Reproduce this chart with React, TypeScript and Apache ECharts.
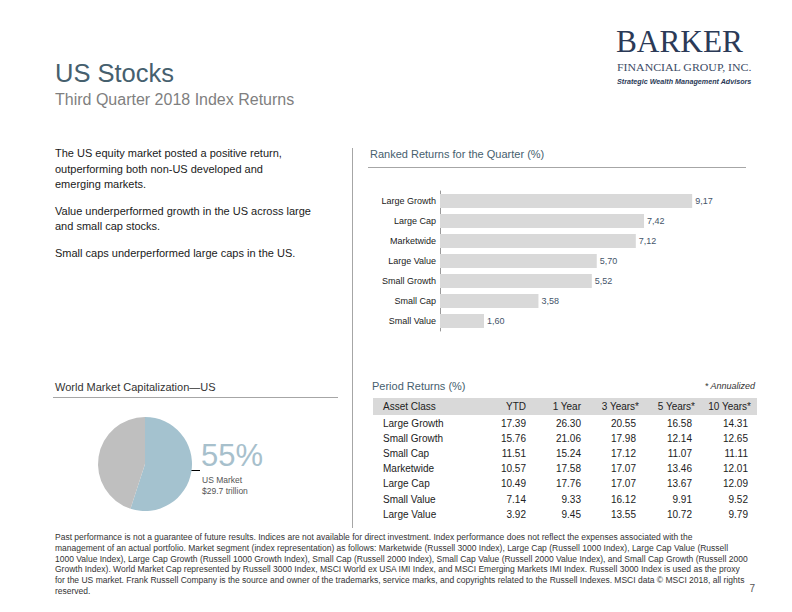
import React, { useEffect, useRef } from "react";
import * as echarts from "echarts";

// ---- Data ----
const rankedCategories = ["Large Growth", "Large Cap", "Marketwide", "Large Value", "Small Growth", "Small Cap", "Small Value"];
const rankedValues = [9.17, 7.42, 7.12, 5.7, 5.52, 3.58, 1.6];

const tableHeaders = ["Asset Class", "YTD", "1 Year", "3 Years*", "5 Years*", "10 Years*"];
const tableAssets = ["Large Growth", "Small Growth", "Small Cap", "Marketwide", "Large Cap", "Small Value", "Large Value"];
const ytd = ["17.39", "15.76", "11.51", "10.57", "10.49", "7.14", "3.92"];
const oneYear = ["26.30", "21.06", "15.24", "17.58", "17.76", "9.33", "9.45"];
const threeYears = ["20.55", "17.98", "17.12", "17.07", "17.07", "16.12", "13.55"];
const fiveYears = ["16.58", "12.14", "11.07", "13.46", "13.67", "9.91", "10.72"];
const tenYears = ["14.31", "12.65", "11.11", "12.01", "12.09", "9.52", "9.79"];

const marketNames = ["US Market", "Non-US Markets"];
const marketShares = [55, 45];
const usMarketTrillions = 29.7;

const bullets = [
  ["The US equity market posted a positive return,", "outperforming both non-US developed and", "emerging markets."],
  ["Value underperformed growth in the US across large", "and small cap stocks."],
  ["Small caps underperformed large caps in the US."],
];

const footerLines = [
  "Past performance is not a guarantee of future results. Indices are not available for direct investment. Index performance does not reflect the expenses associated with the",
  "management of an actual portfolio. Market segment (index representation) as follows: Marketwide (Russell 3000 Index), Large Cap (Russell 1000 Index), Large Cap Value (Russell",
  "1000 Value Index), Large Cap Growth (Russell 1000 Growth Index), Small Cap (Russell 2000 Index), Small Cap Value (Russell 2000 Value Index), and Small Cap Growth (Russell 2000",
  "Growth Index). World Market Cap represented by Russell 3000 Index, MSCI World ex USA IMI Index, and MSCI Emerging Markets IMI Index. Russell 3000 Index is used as the proxy",
  "for the US market. Frank Russell Company is the source and owner of the trademarks, service marks, and copyrights related to the Russell Indexes. MSCI data © MSCI 2018, all rights",
  "reserved.",
];

const SANS = '"Liberation Sans", Arial, sans-serif';
const SERIF = '"Liberation Serif", "Times New Roman", serif';
const SLATE = "#46606e";

function measure(text: string, font: string): number {
  const c = document.createElement("canvas").getContext("2d");
  if (!c) return text.length * 6;
  c.font = font;
  return c.measureText(text).width;
}

function txt(x: number, y: number, text: string, font: string, fill: string, align = "left", extra: any = {}) {
  return {
    type: "text",
    x,
    y,
    silent: true,
    style: { text, font, fill, textAlign: align, textVerticalAlign: "middle" },
    ...extra,
  };
}

function fitted(x: number, y: number, text: string, font: string, fill: string, width: number) {
  const w = measure(text, font);
  return { ...txt(0, 0, text, font, fill), x, y, scaleX: width / w, originX: 0 };
}

function hline(x1: number, x2: number, y: number, stroke: string) {
  return { type: "line", silent: true, shape: { x1, y1: y + 0.5, x2, y2: y + 0.5 }, style: { stroke, lineWidth: 1 } };
}

export default function App() {
  const ref = useRef<HTMLDivElement>(null);

  useEffect(() => {
    if (!ref.current) return;
    const chart = echarts.init(ref.current, null, { renderer: "svg" });

    const graphics: any[] = [];
    // Header
    graphics.push(txt(55, 73, "US Stocks", `25.5px ${SANS}`, SLATE));
    graphics.push(txt(55, 99, "Third Quarter 2018 Index Returns", `16px ${SANS}`, "#7f7f7f"));
    // Logo
    graphics.push(fitted(616, 41, "BARKER", `32px ${SERIF}`, "#2b3a57", 127));
    graphics.push(fitted(617, 67, "FINANCIAL GROUP, INC.", `10.5px ${SERIF}`, "#3d4c66", 135));
    graphics.push(fitted(617, 81, "Strategic Wealth Management Advisors", `italic bold 7.5px ${SANS}`, "#2b3a57", 135));

    // Bullets
    let by = 153;
    bullets.forEach((para) => {
      para.forEach((line) => {
        graphics.push(txt(55, by, line, `11px ${SANS}`, "#1a1a1a"));
        by += 15.5;
      });
      by += 11;
    });

    // Divider
    graphics.push({ type: "line", silent: true, shape: { x1: 352.5, y1: 148, x2: 352.5, y2: 528 }, style: { stroke: "#a6a6a6", lineWidth: 1 } });

    // Ranked returns heading
    graphics.push(txt(370, 154, "Ranked Returns for the Quarter (%)", `11px ${SANS}`, SLATE));
    graphics.push(hline(368, 746, 167, "#a6a6a6"));

    // World market cap
    graphics.push(txt(55, 387, "World Market Capitalization\u2014US", `11px ${SANS}`, "#333"));
    graphics.push(hline(53, 338, 397, "#a6a6a6"));
    graphics.push({ type: "line", silent: true, shape: { x1: 191, y1: 470.5, x2: 200, y2: 470.5 }, style: { stroke: "#000", lineWidth: 1 } });
    graphics.push(txt(201, 455, `${marketShares[0]}%`, `31px ${SANS}`, "#a7c0cc"));
    graphics.push(txt(202, 480, marketNames[0], `8.5px ${SANS}`, "#555"));
    graphics.push(txt(202, 491, `$${usMarketTrillions} trillion`, `8.5px ${SANS}`, "#555"));

    // Period returns table
    graphics.push(txt(372, 386, "Period Returns (%)", `11px ${SANS}`, SLATE));
    graphics.push(txt(755, 386, "* Annualized", `italic 9px ${SANS}`, "#333", "right"));
    graphics.push({ type: "rect", silent: true, shape: { x: 373, y: 398, width: 384, height: 17 }, style: { fill: "#d9d9d9" } });
    const colRight = [526, 581, 636, 692, 748];
    const headerRight = [526, 581, 639, 695, 751];
    const tf = `10px ${SANS}`;
    graphics.push(txt(383, 406.5, tableHeaders[0], tf, "#222"));
    for (let c = 1; c < tableHeaders.length; c++) {
      graphics.push(txt(headerRight[c - 1], 406.5, tableHeaders[c], tf, "#222", "right"));
    }
    const cols = [ytd, oneYear, threeYears, fiveYears, tenYears];
    tableAssets.forEach((name, r) => {
      const y = 423 + r * 15.2;
      graphics.push(txt(383, y, name, tf, "#222"));
      cols.forEach((col, c) => graphics.push(txt(colRight[c], y, col[r], tf, "#222", "right")));
    });

    // Footer
    footerLines.forEach((line, i) => {
      graphics.push(txt(55, 537 + i * 10.8, line, `8.5px ${SANS}`, "#333"));
    });
    graphics.push(txt(755, 588, "7", `10px ${SANS}`, "#555", "right"));

    chart.setOption({
      animation: false,
      backgroundColor: "#ffffff",
      grid: { left: 440, top: 191, width: 275, height: 140, containLabel: false },
      xAxis: { type: "value", min: 0, max: 10, show: false },
      yAxis: {
        type: "category",
        inverse: true,
        data: rankedCategories,
        axisLine: { show: true, lineStyle: { color: "#999", width: 1 } },
        axisTick: { show: false },
        axisLabel: { color: "#1a1a1a", fontSize: 9, fontFamily: SANS, margin: 4 },
      },
      series: [
        {
          type: "bar",
          data: rankedValues,
          barWidth: 14,
          itemStyle: { color: "#d9d9d9" },
          label: {
            show: true,
            position: "right",
            distance: 3,
            color: "#44546a",
            fontSize: 9,
            fontFamily: SANS,
            formatter: (p: any) => Number(p.value).toFixed(2).replace(".", ","),
          },
          silent: true,
        },
        {
          type: "pie",
          center: [145, 464],
          radius: 47,
          startAngle: 90,
          clockwise: true,
          label: { show: false },
          labelLine: { show: false },
          silent: true,
          data: marketNames.map((n, i) => ({
            name: n,
            value: marketShares[i],
            itemStyle: { color: i === 0 ? "#a4c2cf" : "#bfbfbf" },
          })),
        },
      ],
      graphic: graphics,
    });

    return () => chart.dispose();
  }, []);

  return <div ref={ref} style={{ position: "absolute", left: 0, top: 0, width: 792, height: 612 }} />;
}
